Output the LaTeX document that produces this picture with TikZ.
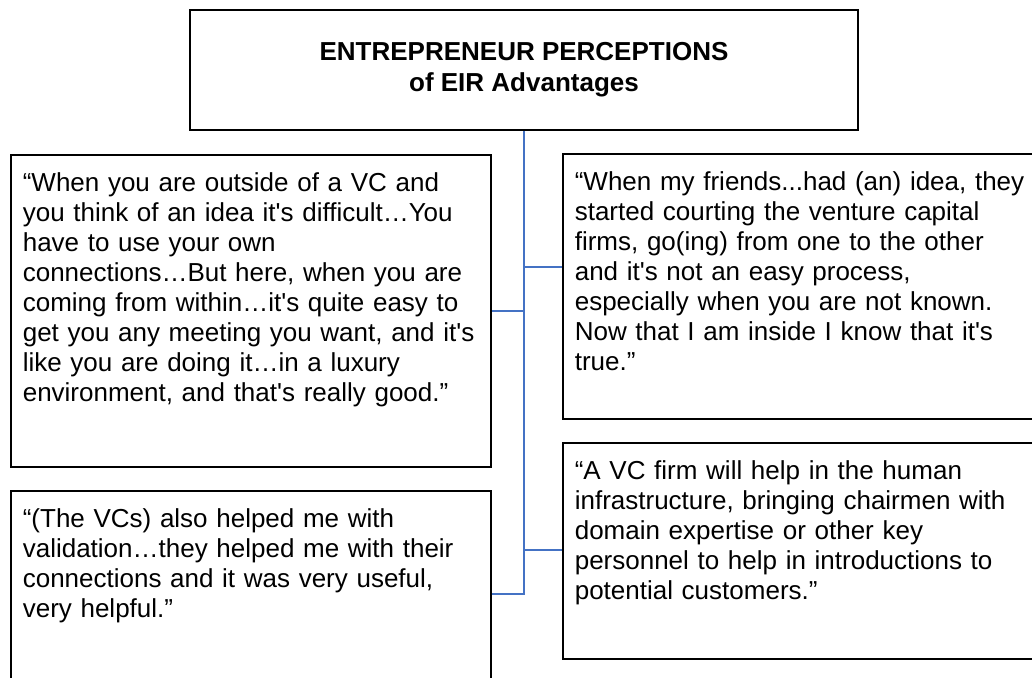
\documentclass[tikz,border=0pt]{standalone}
\usepackage{fontspec}
\newfontfamily\quotefont{Liberation Sans}
\usetikzlibrary{positioning}
\definecolor{linkblue}{RGB}{68,114,196}

\begin{document}
\begin{tikzpicture}[x=1pt,y=-1pt,
    font=\quotefont\fontsize{26}{30}\selectfont,
    box/.style={draw,line width=1.6pt,inner sep=0pt},
    quote/.style 2 args={box,anchor=north west,align=left,
        inner xsep=12pt,text width=#1,text height=37pt,text depth=#2},
    link/.style={draw=linkblue,line width=1.5pt}]
    \useasboundingbox[fill=white] (0,0) rectangle (1032,677);
    \clip (0,0) rectangle (1032,677);

    \node[box,minimum width=668pt,minimum height=120pt,align=center,
          font=\quotefont\bfseries\fontsize{26}{31}\selectfont] (t0) at (524,70)
        {ENTREPRENEUR PERCEPTIONS\\of EIR Advantages};

    \node[quote={456pt}{275pt}] (lq1) at (10,154)
        {“When you are outside of a VC and\\
         you think of an idea it's difficult…You\\
         have to use your own\\
         connections…But here, when you are\\
         coming from within…it's quite easy to\\
         get you any meeting you want, and it's\\
         like you are doing it…in a luxury\\
         environment, and that's really good.”};
    \node[quote={456pt}{193pt}] (lq2) at (10,490)
        {“(The VCs) also helped me with\\
         validation…they helped me with their\\
         connections and it was very useful,\\
         very helpful.”};
    \node[quote={476pt}{228pt}] (rq1) at (562,153)
        {“When my friends...had (an) idea, they\\
         started courting the venture capital\\
         firms, go(ing) from one to the other\\
         and it's not an easy process,\\
         especially when you are not known.\\
         Now that I am inside I know that it's\\
         true.”};
    \node[quote={476pt}{179pt}] (rq2) at (562,442)
        {“A VC firm will help in the human\\
         infrastructure, bringing chairmen with\\
         domain expertise or other key\\
         personnel to help in introductions to\\
         potential customers.”};

    % branch points on the trunk
    \coordinate (br1) at (524,267);
    \coordinate (bl1) at (524,311);
    \coordinate (br2) at (524,550);
    \coordinate (bl2) at (524,594);

    \draw[link] (t0.south) -- (bl2) -- (bl2 -| lq2.east);
    \draw[link] (bl1) -- (bl1 -| lq1.east);
    \draw[link] (br1) -- (br1 -| rq1.west);
    \draw[link] (br2) -- (br2 -| rq2.west);
\end{tikzpicture}
\end{document}
